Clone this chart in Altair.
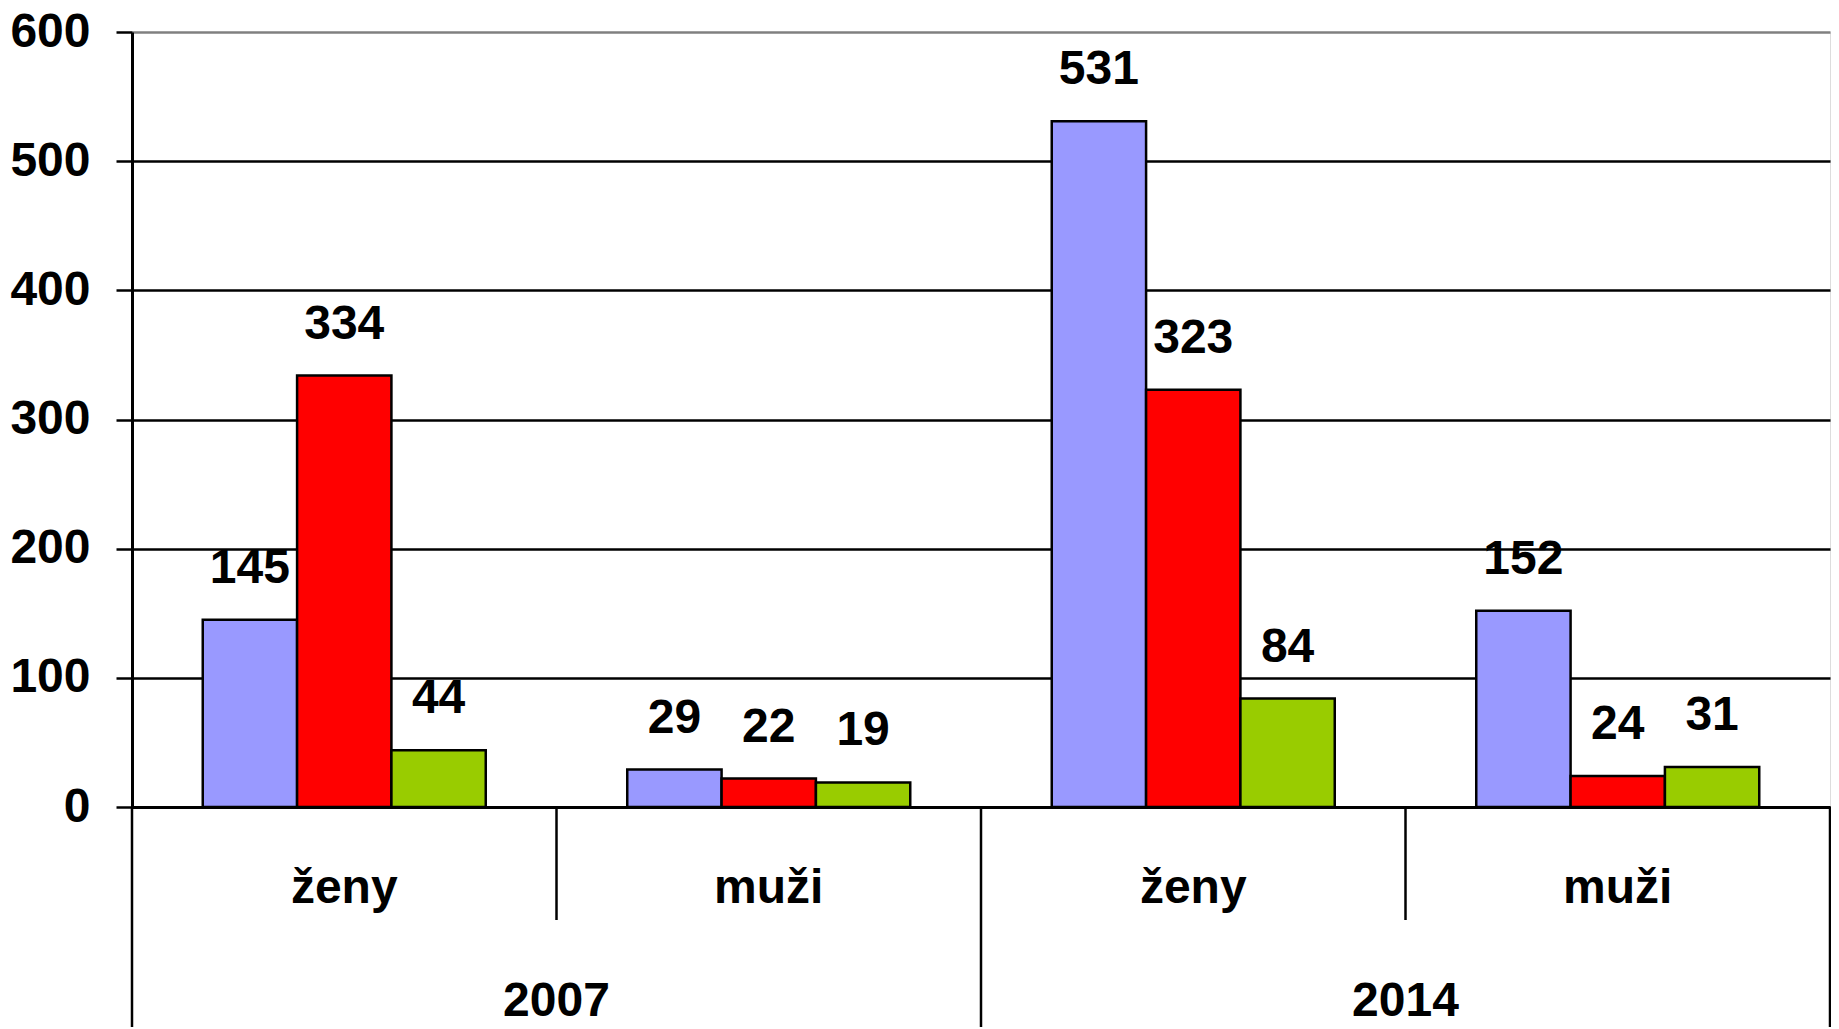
import altair as alt
import pandas as pd

# ---- data -------------------------------------------------------------
years = ["2007", "2007", "2014", "2014"]
sexes = ["ženy", "muži", "ženy", "muži"]
series = ["řada 1", "řada 2", "řada 3"]
series1 = [145, 29, 531, 152]
series2 = [334, 22, 323, 24]
series3 = [44, 19, 84, 31]
colors = ["#9999FF", "#FF0000", "#99CC00"]
y_ticks = [0, 100, 200, 300, 400, 500, 600]

groups = [f"{y} {s}" for y, s in zip(years, sexes)]
rows = []
for name, vals in zip(series, [series1, series2, series3]):
    for g, v in zip(groups, vals):
        rows.append({"group": g, "series": name, "value": v})
df = pd.DataFrame(rows)

cat_df = pd.DataFrame({"group": groups, "sex": sexes})
year_df = pd.DataFrame({"group": [groups[0], groups[2]], "year": ["2007", "2014"]})
short_df = pd.DataFrame({"group": [groups[1], groups[3]]})
long_df = pd.DataFrame({"group": [groups[0], groups[2]]})
right_df = pd.DataFrame({"group": [groups[3]]})

W, H = 1698, 775
FONT = "Liberation Sans"
FS = 48

xscale = alt.Scale(domain=groups, paddingInner=0, paddingOuter=0)
xoff = alt.XOffset("series:N", scale=alt.Scale(domain=series, paddingOuter=0.75, paddingInner=0))

yaxis = alt.Axis(
    values=y_ticks, title=None, labelFont=FONT, labelFontSize=FS, labelFontWeight="bold",
    labelColor="black", tickSize=16, tickColor="black", tickWidth=2.5,
    domainColor="black", domainWidth=3, labelPadding=26,
    gridColor={"condition": {"test": "datum.value >= 600", "value": "#808080"}, "value": "black"},
    gridWidth=2.5,
)
yscale = alt.Scale(domain=[0, 600], nice=False)

base = alt.Chart(df)

bars = base.mark_bar(stroke="black", strokeWidth=2.5).encode(
    x=alt.X("group:N", scale=xscale, axis=alt.Axis(labels=False, ticks=False, title=None,
                                                   domainColor="black", domainWidth=3, grid=False)),
    xOffset=xoff,
    y=alt.Y("value:Q", scale=yscale, axis=yaxis),
    color=alt.Color("series:N", scale=alt.Scale(domain=series, range=colors), legend=None),
)

labels = base.mark_text(font=FONT, fontSize=FS, fontWeight="bold", color="black",
                        baseline="alphabetic", dy=-37).encode(
    x=alt.X("group:N", scale=xscale),
    xOffset=xoff,
    y=alt.Y("value:Q", scale=yscale),
    text="value:Q",
)

cat_labels = alt.Chart(cat_df).mark_text(font=FONT, fontSize=FS, fontWeight="bold", color="black",
                                         baseline="alphabetic").encode(
    x=alt.X("group:N", scale=xscale),
    y=alt.value(H + 96),
    text="sex:N",
)

year_labels = alt.Chart(year_df).mark_text(font=FONT, fontSize=FS, fontWeight="bold", color="black",
                                           baseline="alphabetic").encode(
    x=alt.X("group:N", scale=xscale, bandPosition=1),
    y=alt.value(H + 209),
    text="year:N",
)

short_rules = alt.Chart(short_df).mark_rule(color="black", strokeWidth=2.5).encode(
    x=alt.X("group:N", scale=xscale, bandPosition=0),
    y=alt.value(H), y2=alt.value(H + 113),
)
long_rules = alt.Chart(long_df).mark_rule(color="black", strokeWidth=2.5).encode(
    x=alt.X("group:N", scale=xscale, bandPosition=0),
    y=alt.value(H), y2=alt.value(H + 240),
)
right_rules = alt.Chart(right_df).mark_rule(color="black", strokeWidth=2.5).encode(
    x=alt.X("group:N", scale=xscale, bandPosition=1),
    y=alt.value(H), y2=alt.value(H + 240),
)

chart = alt.layer(
    bars, labels, cat_labels, year_labels, short_rules, long_rules, right_rules
).properties(
    width=W, height=H,
    autosize=alt.AutoSizeParams(type="none"),
    padding={"left": 124, "top": 24, "right": 1, "bottom": 220},
).configure_view(
    stroke="#808080", strokeWidth=2.5
).configure(background="white")

chart.save("out.html", embed_options={"renderer": "svg", "actions": False})
